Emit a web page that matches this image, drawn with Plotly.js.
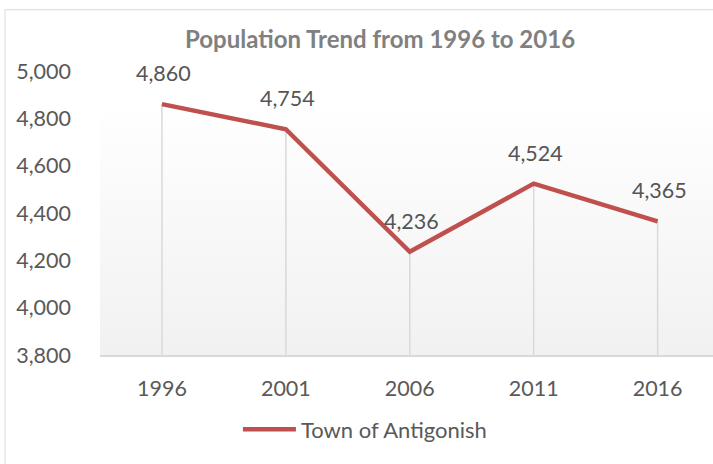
<!DOCTYPE html>
<html>
<head>
<meta charset="utf-8">
<script src="https://cdn.plot.ly/plotly-3.0.1.min.js"></script>
<style>html,body{margin:0;padding:0;background:#fff;}#chart{width:713px;height:464px;}</style>
</head>
<body>
<div id="chart"></div>
<script>
const years = ['1996', '2001', '2006', '2011', '2016'];
const population = [4860, 4754, 4236, 4524, 4365];
const seriesName = 'Town of Antigonish';
const yMin = 3800, yMax = 5000;

const FONT = 'Lato, "Open Sans", sans-serif';

// drop lines derived from data
const dropX = [], dropY = [];
years.forEach((c, i) => { dropX.push(c, c, null); dropY.push(yMin, population[i], null); });

const svg = '<svg xmlns="http://www.w3.org/2000/svg" width="100" height="100" viewBox="0 0 100 100" preserveAspectRatio="none">' +
  '<defs><linearGradient id="g" x1="0" y1="0" x2="0" y2="1"><stop offset="0" stop-color="#ffffff"/><stop offset="1" stop-color="#f1f1f1"/></linearGradient></defs>' +
  '<rect x="0" y="0" width="100" height="100" fill="url(#g)"/></svg>';
const bgSrc = 'data:image/svg+xml;charset=utf-8,' + encodeURIComponent(svg);

const traces = [
  { x: dropX, y: dropY, mode: 'lines', line: { color: '#d9d9d9', width: 1.5 }, showlegend: false, hoverinfo: 'skip', cliponaxis: false },
  { x: years, y: population, name: seriesName, mode: 'lines', line: { color: '#c0504d', width: 4.5 }, cliponaxis: false }
];

const annotations = years.map((c, i) => ({
  x: i, y: population[i], xref: 'x', yref: 'y', text: population[i].toLocaleString('en-US'),
  showarrow: false, yshift: 31, xshift: 2, yanchor: 'middle',
  font: { family: FONT, size: 21.5, color: '#555555' }
}));
annotations.push({
  text: '<b>Population Trend from 1996 to 2016</b>', xref: 'paper', yref: 'paper',
  x: (380 - 100) / 613, y: (354.7 - 39) / 283.5, xanchor: 'center', yanchor: 'middle', showarrow: false,
  font: { family: FONT, size: 24, color: '#808080' }
});

const layout = {
  width: 713, height: 464,
  margin: { l: 100, r: 0, t: 71, b: 109, pad: 0 },
  paper_bgcolor: '#ffffff', plot_bgcolor: 'rgba(0,0,0,0)',
  separators: '.,',
  xaxis: {
    type: 'category', range: [-0.5, 4.447], showgrid: false, zeroline: false,
    showline: true, linecolor: '#d9d9d9', linewidth: 2, ticks: '',
    ticklabelstandoff: 13,
    tickfont: { family: FONT, size: 21.5, color: '#595959' }
  },
  yaxis: {
    range: [yMin, yMax], dtick: 200, tickformat: ',d', showgrid: false, zeroline: false,
    showline: false, ticks: '', ticklabelstandoff: 28,
    tickfont: { family: FONT, size: 21.5, color: '#595959' }
  },
  showlegend: true,
  legend: {
    orientation: 'h', x: 0.225, y: -0.262, xanchor: 'left', yanchor: 'middle',
    bgcolor: 'rgba(0,0,0,0)', itemwidth: 53,
    font: { family: FONT, size: 22, color: '#595959' }
  },
  annotations: annotations,
  images: [{
    source: bgSrc, xref: 'paper', yref: 'paper', x: 0, y: (354.7 - 103) / 283.5,
    sizex: 1, sizey: (354.7 - 103) / 283.5, xanchor: 'left', yanchor: 'top',
    sizing: 'stretch', layer: 'below'
  }],
  shapes: [{
    type: 'rect', xref: 'paper', yref: 'paper', layer: 'below',
    x0: (5 - 100) / 613, x1: (720 - 100) / 613, y0: (354.7 - 475) / 283.5, y1: (354.7 - 10) / 283.5,
    line: { color: '#d9d9d9', width: 1 }, fillcolor: 'rgba(0,0,0,0)'
  }]
};

Plotly.newPlot('chart', traces, layout, { displayModeBar: false, staticPlot: true });
</script>
</body>
</html>
